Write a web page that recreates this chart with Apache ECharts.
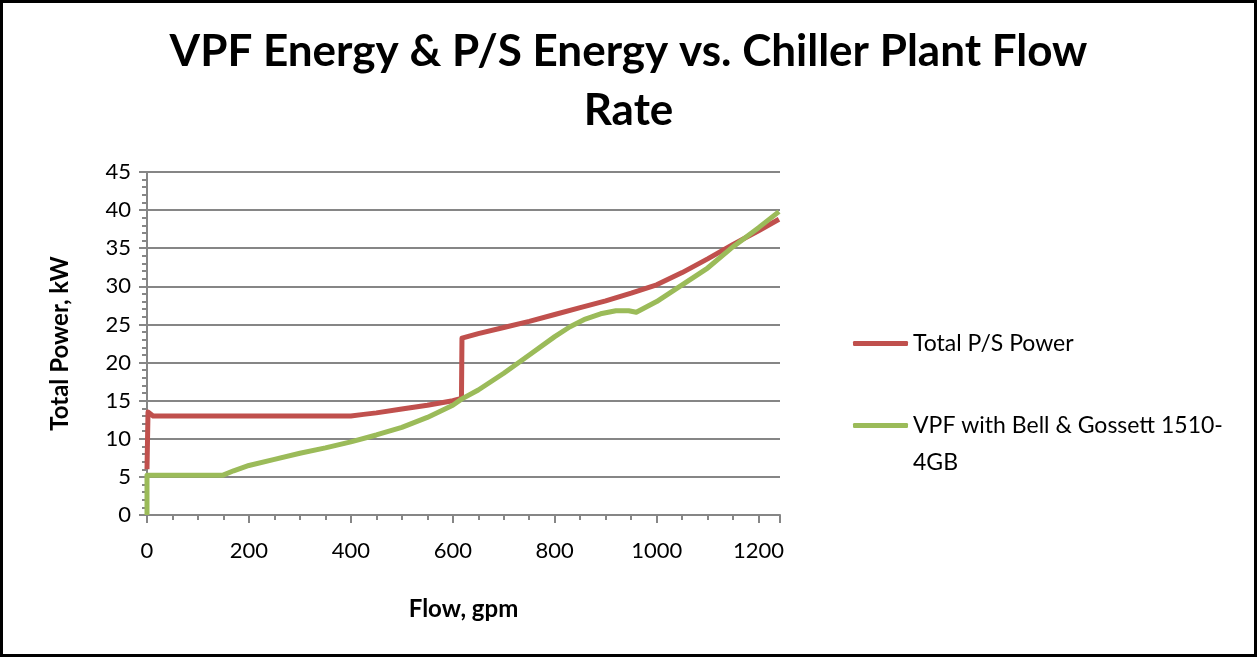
<!DOCTYPE html>
<html>
<head>
<meta charset="utf-8">
<script src="https://cdn.jsdelivr.net/npm/echarts@6/dist/echarts.min.js"></script>
<style>
    html, body { margin: 0; padding: 0; background: #fff; }
    #main { width: 1257px; height: 657px; }
</style>
</head>
<body>
<div id="main"></div>
<script>
/* 数据: flow (gpm) vs power (kW) */
var psFlow  = [0, 2, 12, 100, 200, 300, 400, 425, 450, 500, 550, 600, 617, 618, 650, 700, 750, 800, 850, 900, 950, 1000, 1050, 1100, 1150, 1200, 1240];
var psPower = [6, 13.5, 13, 13, 13, 13, 13, 13.2, 13.4, 13.9, 14.4, 15.0, 15.3, 23.2, 23.8, 24.6, 25.4, 26.3, 27.2, 28.1, 29.1, 30.2, 31.8, 33.6, 35.5, 37.3, 38.8];

var vpfFlow  = [0, 0, 50, 100, 148, 170, 200, 250, 300, 350, 400, 450, 500, 550, 600, 617, 650, 700, 750, 800, 830, 860, 890, 920, 945, 960, 1000, 1050, 1100, 1150, 1200, 1240];
var vpfPower = [0, 5.2, 5.2, 5.2, 5.2, 5.8, 6.5, 7.3, 8.1, 8.8, 9.6, 10.5, 11.5, 12.8, 14.4, 15.2, 16.4, 18.6, 21.0, 23.4, 24.7, 25.7, 26.4, 26.8, 26.8, 26.6, 28.0, 30.2, 32.4, 35.2, 37.7, 39.8];

var seriesNames = ['Total P/S Power', 'VPF with Bell & Gossett 1510-4GB'];
var xTickLabels = [0, 200, 400, 600, 800, 1000, 1200];
var yTickLabels = [0, 5, 10, 15, 20, 25, 30, 35, 40, 45];

function zip(xs, ys) {
    var out = [];
    for (var i = 0; i < xs.length; i++) { out.push([xs[i], ys[i]]); }
    return out;
}

var gray = '#868686';
var red = '#C0504D';
var green = '#9BBB59';
var font = 'Lato, "Open Sans", sans-serif';

var chart = echarts.init(document.getElementById('main'));
chart.setOption({
    animation: false,
    backgroundColor: '#fff',
    title: {
        text: 'VPF Energy & P/S Energy vs. Chiller Plant Flow\nRate',
        left: 'center',
        top: 17,
        textStyle: { fontFamily: font, fontWeight: 'bold', fontSize: 44, lineHeight: 59, color: '#000' }
    },
    graphic: [{
        type: 'rect',
        shape: { x: 1.5, y: 1.5, width: 1254, height: 654 },
        style: { fill: 'none', stroke: '#000', lineWidth: 3 },
        silent: true
    }],
    legend: {
        orient: 'vertical',
        left: 848,
        top: 320,
        itemWidth: 55,
        itemHeight: 5,
        itemGap: 8,
        icon: 'roundRect',
        data: seriesNames,
        formatter: function (name) {
            // 第二项换行，首行与图例线对齐
            if (name === seriesNames[1]) { return '\nVPF with Bell & Gossett 1510-\n4GB'; }
            return name;
        },
        textStyle: { fontFamily: font, fontSize: 23, lineHeight: 37, color: '#000' }
    },
    grid: { left: 147, right: 477, top: 172, bottom: 142, containLabel: false },
    xAxis: {
        type: 'value',
        min: 0,
        max: 1242,
        interval: 200,
        name: 'Flow, gpm',
        nameLocation: 'middle',
        nameGap: 82,
        nameTextStyle: { fontFamily: font, fontWeight: 'bold', fontSize: 24, color: '#000' },
        axisLine: { show: true, lineStyle: { color: gray, width: 2 } },
        axisTick: { show: true, length: 8, lineStyle: { color: gray, width: 2 } },
        minorTick: { show: true, splitNumber: 4, length: 5, lineStyle: { color: gray, width: 2 } },
        splitLine: { show: false },
        axisLabel: {
            margin: 25, showMaxLabel: false, color: '#000', fontFamily: font, fontSize: 22,
            formatter: function (v) { return xTickLabels.indexOf(v) >= 0 ? String(v) : ''; }
        }
    },
    yAxis: {
        type: 'value',
        min: 0,
        max: 45,
        interval: 5,
        name: 'Total Power, kW',
        nameLocation: 'middle',
        nameGap: 75,
        nameTextStyle: { fontFamily: font, fontWeight: 'bold', fontSize: 24, color: '#000' },
        axisLine: { show: true, lineStyle: { color: gray, width: 2 } },
        axisTick: { show: true, length: 8, lineStyle: { color: gray, width: 2 } },
        minorTick: { show: true, splitNumber: 5, length: 5, lineStyle: { color: gray, width: 2 } },
        splitLine: { show: true, lineStyle: { color: gray, width: 2 } },
        axisLabel: {
            margin: 16, color: '#000', fontFamily: font, fontSize: 22,
            formatter: function (v) { return yTickLabels.indexOf(v) >= 0 ? String(v) : ''; }
        }
    },
    series: [
        {
            name: seriesNames[0],
            type: 'line',
            data: zip(psFlow, psPower),
            showSymbol: false,
            symbol: 'none',
            clip: false,
            color: red,
            lineStyle: { width: 5, color: red, join: 'round' }
        },
        {
            name: seriesNames[1],
            type: 'line',
            data: zip(vpfFlow, vpfPower),
            showSymbol: false,
            symbol: 'none',
            clip: false,
            color: green,
            lineStyle: { width: 5, color: green, join: 'round' }
        }
    ]
});
</script>
</body>
</html>
